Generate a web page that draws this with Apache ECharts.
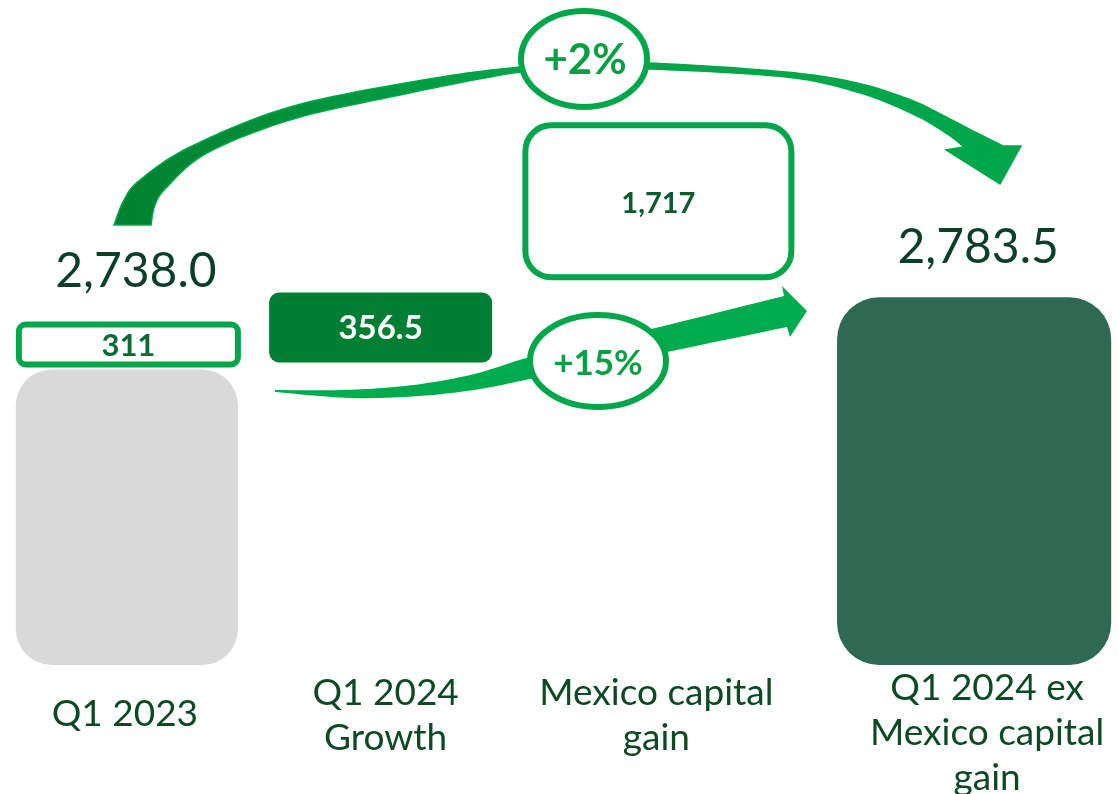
<!DOCTYPE html>
<html><head><meta charset="utf-8">
<script src="https://cdn.jsdelivr.net/npm/echarts@6/dist/echarts.min.js"></script>
<style>html,body{margin:0;padding:0;background:#fff}#c{width:1119px;height:794px}</style>
</head><body><div id="c"></div>
<script>
// ---- data ----
const categories = ['Q1 2023', 'Q1 2024\nGrowth', 'Mexico capital\ngain', 'Q1 2024 ex\nMexico capital\ngain'];
const totals = [2738.0, null, null, 2783.5];
const totalLabels = ['2,738.0', '', '', '2,783.5'];
const boxValues = [311, 356.5, 1717, null];
const boxLabels = ['311', '356.5', '1,717', ''];
const growthLabels = ['+2%', '+15%'];
const axisMin = 2552, axisMax = 2970;

// ---- styles ----
const GREEN = '#00a64a', BOXDARK = '#007f33', TXT = '#0b3f27', CAT = '#0b4a22';
const FONT = 'Lato, "Noto Sans", sans-serif';
const xNudge = [-13, -39, -41, -5];
const valueNudge = [9, 0, 0, 4];
const labelNudge = [-15, -34, -43, 8];
const labelDy = [49, 51, 51, 68];
const barWidthFrac = [0.794, 0, 0, 0.98];

function spline(pts, n) {
  n = n || 12; const out = [];
  for (let i = 0; i < pts.length - 1; i++) {
    const p0 = pts[Math.max(i - 1, 0)], p1 = pts[i], p2 = pts[i + 1], p3 = pts[Math.min(i + 2, pts.length - 1)];
    for (let k = 0; k < n; k++) {
      const t = k / n, t2 = t * t, t3 = t2 * t;
      const f = j => 0.5 * (2 * p1[j] + (-p0[j] + p2[j]) * t + (2 * p0[j] - 5 * p1[j] + 4 * p2[j] - p3[j]) * t2 + (-p0[j] + 3 * p1[j] - 3 * p2[j] + p3[j]) * t3);
      out.push([f(0), f(1)]);
    }
  }
  out.push(pts[pts.length - 1]);
  return out;
}

// decorative arrows
const bigTop = [[114,225],[124,200],[140,180],[190,147],[290,107],[423,80],[520,67],[585,64],[650,63],[786,72],[857,83],[911,100],[946,117],[975,132],[1003,146]];
const bigBot = [[964,147],[946,133],[911,113],[857,92],[786,77],[650,69],[585,70],[520,72],[390,97],[290,120],[207,153],[167,187],[155,205],[151,225]];
const bigArrow = spline(bigTop).concat([[1021,146],[1000,184],[946,150]]).concat(spline(bigBot));
const lowTop = [[275,390],[340,390],[405,386],[470,375],[530,357],[600,340],[651,329],[784,296]];
const lowBot = [[787,327],[667,352],[600,366],[530,379],[480,389],[420,396],[351,398],[275,392]];
const lowArrow = spline(lowTop).concat([[782,286],[807,311],[790,337]]).concat(spline(lowBot));

const chart = echarts.init(document.getElementById('c'));
chart.setOption({
  animation: false,
  grid: { left: 0, right: 0, top: 1, bottom: 129 },
  xAxis: { type: 'category', data: categories, show: false },
  yAxis: { type: 'value', min: axisMin, max: axisMax, show: false },
  graphic: [
    { type: 'polygon', z: 1, shape: { points: bigArrow },
      style: { fill: { type: 'linear', x: 114, y: 0, x2: 1021, y2: 0, global: true,
        colorStops: [{ offset: 0, color: '#00802f' }, { offset: 0.45, color: GREEN }, { offset: 1, color: GREEN }] },
        stroke: GREEN, lineWidth: 1.5 } },
    { type: 'polygon', z: 1, shape: { points: lowArrow }, style: { fill: '#00ac4e' } },
    { type: 'ellipse', z: 3, shape: { cx: 584, cy: 59, rx: 63, ry: 48 }, style: { fill: '#fff', stroke: GREEN, lineWidth: 6 } },
    { type: 'ellipse', z: 3, shape: { cx: 598, cy: 361, rx: 68, ry: 46 }, style: { fill: '#fff', stroke: GREEN, lineWidth: 6 } },
    { type: 'text', z: 4, x: 585, y: 60, style: { text: growthLabels[0], fill: '#0a9e45', font: 'bold 42px ' + FONT, align: 'center', verticalAlign: 'middle' } },
    { type: 'text', z: 4, x: 598, y: 364, style: { text: growthLabels[1], fill: '#0a9e45', font: 'bold 35px ' + FONT, align: 'center', verticalAlign: 'middle' } }
  ],
  series: [{
    type: 'custom',
    data: categories.map((c, i) => [i, totals[i] == null ? axisMin : totals[i]]),
    encode: { x: 0, y: 1 },
    renderItem: function (params, api) {
      const i = params.dataIndex;
      const band = api.size([1, 0])[0];
      const base = api.coord([i, axisMin]);
      const cx = base[0] + xNudge[i];
      const bottomY = base[1];
      const children = [];
      let stackTop = bottomY;
      if (totals[i] != null) {
        const top = api.coord([i, totals[i]])[1];
        const w = band * barWidthFrac[i];
        children.push({ type: 'rect', shape: { x: cx - w / 2, y: top, width: w, height: bottomY - top, r: i === 0 ? 36 : 42 },
          style: { fill: i === 0 ? '#d9d9d9' : '#2e6a53' } });
        stackTop = top;
      }
      if (boxValues[i] != null) {
        if (i === 0) {
          const bot = stackTop - 2, h = 46, w = 225, x0 = cx + 1.5 - w / 2;
          children.push({ type: 'rect', shape: { x: x0 + 3, y: bot - h + 3, width: w - 6, height: h - 6, r: 7 },
            style: { fill: '#fff', stroke: GREEN, lineWidth: 6 } });
          children.push({ type: 'text', x: cx + 1.5, y: bot - h / 2 + 1, style: { text: boxLabels[i], fill: '#0a6b33', font: 'bold 31px ' + FONT, align: 'center', verticalAlign: 'middle' } });
          stackTop = bot - h;
        } else if (i === 1) {
          const bot = api.coord([0, totals[0]])[1] - 7, h = 70, w = 223;
          children.push({ type: 'rect', shape: { x: cx - w / 2, y: bot - h, width: w, height: h, r: 10 }, style: { fill: BOXDARK } });
          children.push({ type: 'text', x: cx, y: bot - h / 2 + 1, style: { text: boxLabels[i], fill: '#fff', font: 'bold 33px ' + FONT, align: 'center', verticalAlign: 'middle' } });
        } else if (i === 2) {
          const bot = api.coord([3, totals[3]])[1] - 17, h = 158, w = 272;
          children.push({ type: 'rect', shape: { x: cx - w / 2 + 3, y: bot - h + 3, width: w - 6, height: h - 6, r: 26 },
            style: { fill: '#fff', stroke: GREEN, lineWidth: 6 } });
          children.push({ type: 'text', x: cx, y: bot - h / 2 + 2, style: { text: boxLabels[i], fill: '#0d5c2e', font: 'bold 29px ' + FONT, align: 'center', verticalAlign: 'middle' } });
        }
      }
      if (totals[i] != null) {
        children.push({ type: 'text', x: cx + valueNudge[i], y: stackTop - 50,
          style: { text: totalLabels[i], fill: TXT, font: '48px ' + FONT, align: 'center', verticalAlign: 'middle' } });
      }
      children.push({ type: 'text', x: base[0] + labelNudge[i], y: bottomY + labelDy[i],
        style: { text: categories[i], fill: CAT, font: '37px ' + FONT, lineHeight: 45, align: 'center', verticalAlign: 'middle' } });
      return { type: 'group', children: children };
    }
  }]
});
</script></body></html>
